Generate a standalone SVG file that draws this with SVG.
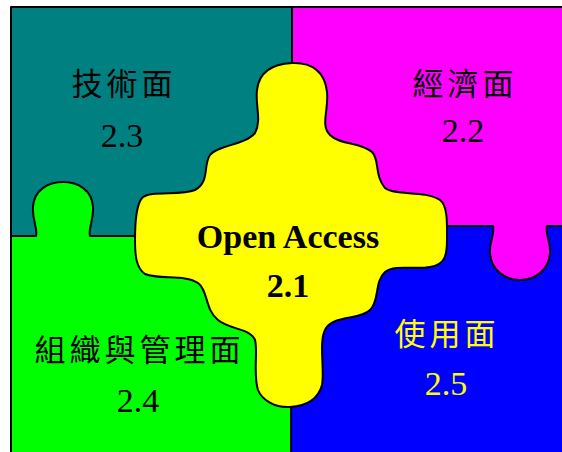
<svg xmlns="http://www.w3.org/2000/svg" width="562" height="452" viewBox="0 0 562 452">
  <style>
    .piece { stroke: #000; stroke-width: 2; stroke-linejoin: round; }
    .cjk { font-family: "Liberation Serif", "Noto Sans CJK TC", serif; font-size: 31px; letter-spacing: 4px; text-anchor: middle; }
    .num { font-family: "Liberation Serif", serif; font-size: 34px; text-anchor: middle; }
    .bold { font-family: "Liberation Serif", serif; font-weight: bold; text-anchor: middle; }
  </style>
  <rect width="562" height="452" fill="#fff"/>
  <g id="tech">
    <rect class="piece" x="11" y="7" width="281" height="229" fill="#008080"/>
    <text class="cjk" x="124" y="95" fill="#000">技術面</text>
    <text class="num" x="122" y="147" fill="#000">2.3</text>
  </g>
  <g id="usage">
    <rect class="piece" x="291" y="226" width="275" height="230" fill="#0000FF"/>
    <text class="cjk" x="447" y="345" fill="#FFFF00">使用面</text>
    <text class="num" x="446" y="395" fill="#FFFF00">2.5</text>
  </g>
  <g id="org">
    <path class="piece" fill="#00FF00" d="M11,236 H36 C38,228 32,220 33,207 C34,190 48,182 63,182 C78,182 92,190 93,207 C94,220 88,228 90,236 H291 V456 H11 Z"/>
    <text class="cjk" x="139.5" y="361" fill="#000">組織與管理面</text>
    <text class="num" x="138" y="412" fill="#000">2.4</text>
  </g>
  <g id="econ">
    <path class="piece" fill="#FF00FF" d="M292,7 H566 V226 H547 C545,235 551,242 550,253 C549,270 535,280 520,280 C505,280 491,270 490,253 C489,242 495,235 493,226 H292 Z"/>
    <text class="cjk" x="465" y="95" fill="#000">經濟面</text>
    <text class="num" x="463" y="142" fill="#000">2.2</text>
  </g>
  <g id="open-access">
    <path class="piece" fill="#FFFF00" d="M292,63 C312,62 325,72 327,92 C329,110 320,125 330,135 C340,145 360,142 372,152 C380,160 374,175 385,188 C395,196 425,190 440,200 C448,206 447,225 447,240 C447,255 445,265 430,267 C415,270 395,264 385,272 C374,282 380,300 370,310 C360,320 335,315 326,328 C318,340 325,370 322,385 C318,400 305,406 290,407 C275,408 262,400 258,390 C253,375 258,350 255,340 C250,328 230,330 218,320 C205,310 208,290 198,283 C185,274 160,280 145,274 C136,268 135,255 135,240 C135,225 136,205 142,198 C150,190 180,196 195,190 C210,182 203,165 210,155 C218,145 245,145 255,133 C262,120 255,105 257,90 C259,72 272,64 292,63 Z"/>
    <text class="bold" x="288" y="248" font-size="34" fill="#000">Open Access</text>
    <text class="bold" x="288" y="297" font-size="34" fill="#000">2.1</text>
  </g>
  <g id="connectors"/>
</svg>
